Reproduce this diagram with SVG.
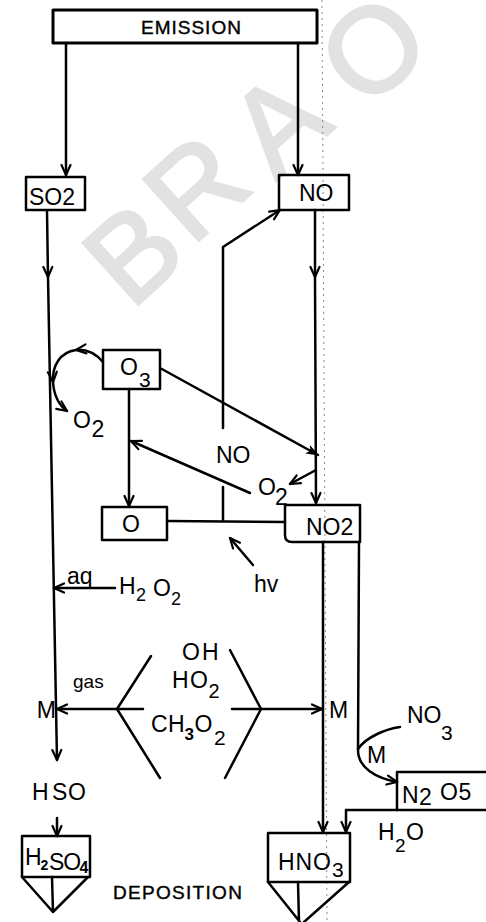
<svg xmlns="http://www.w3.org/2000/svg" width="486" height="922" viewBox="0 0 486 922">
<defs>
<style>
.ln{fill:none;stroke:#000;stroke-width:2.5;stroke-linecap:round;stroke-linejoin:round}
.bx{fill:none;stroke:#000;stroke-width:2.5;stroke-linejoin:round}
.t{font-family:"Liberation Sans",Arial,sans-serif;fill:#000;font-size:23px}
.h{font-family:"Liberation Sans",Arial,sans-serif;fill:#000;stroke:#000;stroke-width:0.4;font-size:19px;letter-spacing:1px}
.wm{font-family:"Liberation Sans",Arial,sans-serif;font-size:120px;fill:#e2e2e2;stroke:#e2e2e2;stroke-width:3}
.fold{fill:none;stroke:#888;stroke-width:1;stroke-dasharray:2 4}
</style>
<marker id="ah" viewBox="0 0 12 12" refX="11" refY="6" markerWidth="12" markerHeight="12" markerUnits="userSpaceOnUse" orient="auto" overflow="visible">
<path d="M1,1.5 L11,6 L1,10.5" fill="none" stroke="#000" stroke-width="2.2" stroke-linecap="round" stroke-linejoin="round"/>
</marker>
<marker id="af" viewBox="0 0 12 12" refX="11" refY="6" markerWidth="13" markerHeight="13" markerUnits="userSpaceOnUse" orient="auto" overflow="visible">
<path d="M0,1.5 L12,6 L0,10.5 L3,6 Z" fill="#000"/>
</marker>
</defs>
<rect width="486" height="922" fill="#fff"/>
<g id="watermark" class="wm">
<text transform="translate(132,252) rotate(-42)" x="0" y="43" text-anchor="middle">B</text>
<text transform="translate(195,186) rotate(-42)" x="0" y="43" text-anchor="middle">R</text>
<text transform="translate(277,122) rotate(-42)" x="0" y="43" text-anchor="middle">A</text>
<text transform="translate(372,48) rotate(-42)" x="0" y="43" text-anchor="middle">O</text>
</g>
<path class="fold" d="M322,0 L327,922"/>
<g id="connectors">
<path class="ln" d="M66,43 L66,175" marker-end="url(#ah)"/>
<path class="ln" d="M298,43 L298,175" marker-end="url(#ah)"/>
<path class="ln" d="M47,211 L48,277 L57,760" marker-mid="url(#ah)" marker-end="url(#ah)"/>
<path class="ln" d="M315,210 L315,277 L316,503" marker-mid="url(#ah)" marker-end="url(#ah)"/>
<path class="ln" d="M223,428 L223,247 L280,210" marker-end="url(#ah)"/>
<path class="ln" d="M223,521 L223,487"/>
<path class="ln" d="M167,521 L285,522"/>
<path class="ln" d="M129,389 L129,506" marker-end="url(#ah)"/>
<path class="ln" d="M160,368 L318,455" marker-end="url(#af)"/>
<path class="ln" d="M250,493 L131,441" marker-end="url(#ah)"/>
<path class="ln" d="M316,470 L290,484" marker-end="url(#ah)"/>
<path class="ln" d="M103,362 C96,354 86,349 76,350 C60,352 52,366 53,382 C54,396 60,406 67,411" marker-mid="url(#ah)" marker-end="url(#ah)"/>
<path class="ln" d="M253,565 L230,538" marker-end="url(#ah)"/>
<path class="ln" d="M115,588 L54,588" marker-end="url(#ah)"/>
<path class="ln" d="M151,656 L117,709 L160,778"/>
<path class="ln" d="M230,650 L261,709 L225,778"/>
<path class="ln" d="M143,709 L57,709" marker-end="url(#ah)"/>
<path class="ln" d="M232,709 L322,709" marker-end="url(#ah)"/>
<path class="ln" d="M323,542 L323,832" marker-end="url(#ah)"/>
<path class="ln" d="M359,542 L358,750 C358,768 376,778 397,782" marker-end="url(#ah)"/>
<path class="ln" d="M400,727 C386,729 366,737 358,749"/>
<path class="ln" d="M397,810 L346,810 L346,832" marker-end="url(#ah)"/>
<path class="ln" d="M57,818 L57,836" marker-end="url(#ah)"/>
</g>
<g id="emission">
<rect class="bx" x="53" y="10" width="264" height="33" style="stroke-width:3"/>
<text class="h" x="141" y="34">EMISSION</text>
</g>
<g id="so2">
<rect class="bx" x="26" y="177" width="59" height="33"/>
<text class="t" x="29" y="205" font-size="22">SO2</text>
</g>
<g id="no">
<rect class="bx" x="279" y="175" width="70" height="35"/>
<text class="t" x="299" y="201">NO</text>
</g>
<g id="o3">
<rect class="bx" x="103" y="350" width="57" height="39"/>
<text class="t" x="120" y="375">O<tspan x="139" y="387" font-size="21">3</tspan></text>
</g>
<g id="o2-left">
<text class="t" x="73" y="428" font-size="22">O<tspan x="91.5" y="437">2</tspan></text>
</g>
<g id="o">
<rect class="bx" x="102" y="507" width="65" height="33"/>
<text class="t" x="122" y="532">O</text>
</g>
<g id="no-label">
<text class="t" x="216" y="463" font-size="22">NO</text>
</g>
<g id="o2-right">
<text class="t" x="258" y="495" font-size="21">O<tspan x="275" y="505">2</tspan></text>
</g>
<g id="no2">
<path class="bx" d="M285,505 L360,505 L360,542 L292,542 Q285,542 285,535 Z"/>
<text class="t" x="306" y="535" font-size="25">NO2</text>
</g>
<g id="hv">
<text class="t" x="254" y="592" font-size="25">hv</text>
</g>
<g id="h2o2">
<text class="t" x="67" y="584" font-size="20">aq</text>
<text class="t" x="119" y="594" font-size="21">H<tspan x="136" y="601" font-size="18">2</tspan><tspan x="153" y="596">O</tspan><tspan x="171" y="605" font-size="18">2</tspan></text>
</g>
<g id="radicals">
<text class="t" x="182" y="660" font-size="25">O<tspan x="202">H</tspan></text>
<text class="t" x="172" y="688" font-size="23">H<tspan x="190">O</tspan><tspan x="208.5" y="698" font-size="20">2</tspan></text>
<text class="t" x="151" y="732" font-size="23">C<tspan x="168">H</tspan><tspan x="184.5" y="740" font-size="17" font-weight="bold">3</tspan><tspan x="194.5" y="732">O</tspan><tspan x="214" y="745" font-size="21">2</tspan></text>
<text class="h" x="73" y="688" style="letter-spacing:0;stroke-width:0">gas</text>
</g>
<g id="m-left">
<text class="t" x="56" y="718" font-size="22" text-anchor="end">M</text>
</g>
<g id="m-right">
<text class="t" x="329" y="718" font-size="23">M</text>
</g>
<g id="no3">
<text class="t" x="407" y="723" font-size="22">N<tspan x="423.5">O</tspan><tspan x="441" y="740" font-size="21">3</tspan></text>
<text class="t" x="367" y="763" font-size="22">M</text>
</g>
<g id="n2o5">
<rect class="bx" x="397" y="772" width="100" height="38"/>
<text class="t" x="402" y="803">N<tspan x="419" y="805">2</tspan><tspan x="440" y="800">O</tspan><tspan x="458.5" y="800">5</tspan></text>
</g>
<g id="h2o">
<text class="t" x="378" y="840">H<tspan x="395" y="852" font-size="19">2</tspan><tspan x="406" y="840">O</tspan></text>
</g>
<g id="hno3">
<rect class="bx" x="268" y="833" width="82" height="49"/>
<path class="ln" d="M268,882 L300,922 M349,882 L304,922 M298,882 L299,922"/>
<text class="t" x="278" y="870" font-size="24">H<tspan x="295.5">N</tspan><tspan x="313">O</tspan><tspan x="332" y="877" font-size="21">3</tspan></text>
</g>
<g id="hso">
<text class="t" x="32" y="800">H<tspan x="52">S</tspan><tspan x="68">O</tspan></text>
</g>
<g id="h2so4">
<rect class="bx" x="22" y="836" width="68" height="41"/>
<path class="ln" d="M22,877 L53,912 L88,877 M52,877 L53,912"/>
<text class="t" x="25" y="865" font-size="21">H<tspan x="40.5" y="870" font-size="14" font-weight="bold">2</tspan><tspan x="49">S</tspan><tspan x="63.2">O</tspan><tspan x="79.5" y="873" font-size="16" font-weight="bold">4</tspan></text>
</g>
<g id="deposition">
<text class="h" x="113" y="899" style="letter-spacing:1.3px">DEPOSITION</text>
</g>
</svg>
